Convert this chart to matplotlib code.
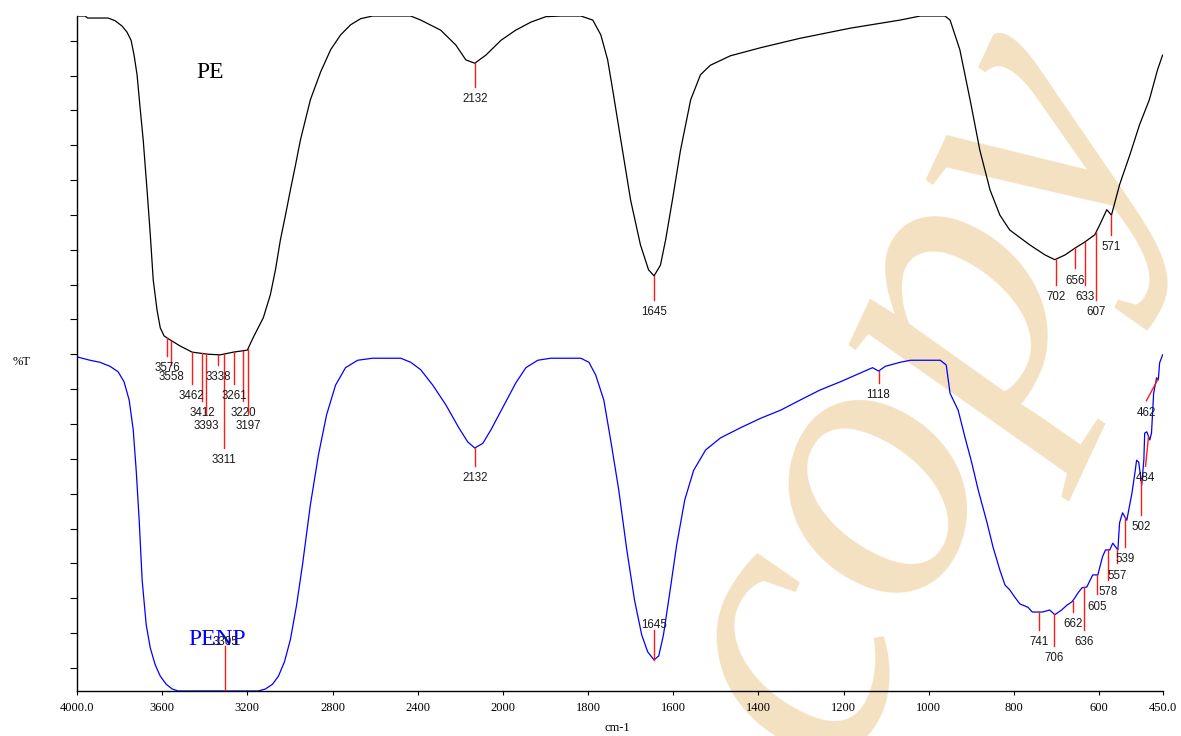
import numpy as np
import matplotlib
matplotlib.use("Agg")
import matplotlib.pyplot as plt

# PE spectrum (black): wavenumber (cm-1) and %T (stacked, arbitrary offset)
pe_wn = [4000, 3962, 3950, 3854, 3821, 3788, 3765, 3746, 3732, 3718, 3704, 3689,
         3671, 3656, 3642, 3624, 3609, 3591, 3562, 3515, 3459, 3388, 3327, 3266,
         3200, 3172, 3125, 3092, 3068, 3045, 3021, 2998, 2974, 2951, 2904, 2856,
         2809, 2762, 2715, 2668, 2612, 2433, 2386, 2292, 2221, 2174, 2132, 2080,
         2009, 1970, 1934, 1899, 1864, 1817, 1789, 1770, 1754, 1742, 1723, 1700,
         1677, 1658, 1645, 1630, 1618, 1602, 1583, 1559, 1536, 1513, 1466, 1395,
         1302, 1184, 1067, 1020, 962, 950, 927, 903, 880, 856, 833, 810, 763, 727,
         704, 680, 657, 634, 610, 599, 582, 571, 552, 528, 505, 482, 463, 451]
pe_t = [100.0, 100.0, 99.7, 99.7, 99.3, 98.5, 97.6, 96.4, 94.2, 91.3, 86.5, 81.6,
        74.2, 67.7, 60.9, 56.4, 53.8, 52.6, 52.0, 51.1, 50.2, 49.9, 49.8, 50.2,
        50.5, 52.4, 55.3, 58.7, 62.4, 66.8, 70.5, 74.2, 77.9, 81.6, 87.6, 91.7,
        95.0, 97.2, 98.7, 99.6, 100.0, 100.0, 99.4, 97.9, 95.7, 93.5, 93.0, 94.2,
        96.4, 97.9, 99.1, 99.9, 100.0, 100.0, 99.4, 97.2, 93.5, 89.0, 81.6, 72.7,
        66.1, 62.4, 61.5, 63.1, 66.8, 72.7, 80.1, 87.6, 91.3, 92.7, 94.1, 95.3,
        96.7, 98.2, 99.4, 100.0, 100.0, 99.4, 95.0, 87.6, 80.1, 74.2, 70.5, 68.3,
        66.1, 64.6, 63.9, 64.6, 65.6, 66.5, 67.6, 69.0, 71.3, 70.5, 75.0, 79.4,
        83.9, 87.6, 92.0, 94.2]

# PENP spectrum (blue)
penp_wn = [4000, 3939, 3892, 3845, 3807, 3779, 3755, 3736, 3722, 3708, 3694, 3675,
           3656, 3633, 3609, 3581, 3553, 3525, 3148, 3115, 3082, 3054, 3026, 2998,
           2969, 2941, 2904, 2866, 2828, 2786, 2739, 2682, 2612, 2480, 2433, 2386,
           2329, 2268, 2207, 2165, 2132, 2094, 2056, 2019, 1991, 1970, 1946, 1918,
           1888, 1817, 1798, 1782, 1763, 1747, 1728, 1709, 1691, 1674, 1660, 1645,
           1634, 1623, 1609, 1592, 1573, 1552, 1524, 1489, 1442, 1395, 1348, 1302,
           1255, 1208, 1161, 1132, 1118, 1102, 1067, 1043, 973, 959, 950, 931, 915,
           899, 884, 863, 849, 833, 821, 810, 798, 786, 767, 757, 733, 716, 704,
           688, 676, 664, 657, 650, 640, 629, 615, 603, 592, 585, 575, 568, 556,
           552, 545, 535, 523, 516, 512, 507, 500, 495, 493, 488, 481, 477, 472,
           465, 461, 458, 451]
penp_t = [49.5, 49.0, 48.7, 48.1, 47.3, 45.8, 43.1, 38.7, 32.7, 25.3, 16.4, 9.8,
          6.4, 3.9, 2.2, 1.0, 0.3, 0.0, 0.0, 0.3, 1.0, 2.2, 4.3, 7.6,
          12.7, 18.7, 27.6, 35.0, 40.9, 45.3, 47.9, 49.0, 49.3, 49.3, 48.7, 47.6,
          45.3, 42.4, 39.0, 36.9, 36.0, 36.7, 38.7, 40.9, 43.1, 45.6, 47.9, 49.0,
          49.3, 49.3, 48.7, 46.8, 43.1, 37.2, 29.8, 20.9, 13.5, 8.3, 5.8, 4.6,
          5.2, 8.3, 14.2, 21.6, 28.3, 32.7, 35.7, 37.5, 39.0, 40.4, 41.6, 43.1,
          44.6, 45.8, 47.1, 47.9, 47.4, 48.1, 48.7, 49.0, 49.0, 48.3, 44.1, 41.6, 37.6,
          33.8, 29.8, 24.9, 21.3, 17.9, 15.7, 15.0, 13.9, 12.9, 12.4, 11.7, 11.7, 12.0, 11.3,
          12.0, 12.7, 13.2, 13.8, 14.5, 15.3, 15.4, 17.2, 17.2, 19.9, 20.9, 20.9, 21.9, 20.9,
          24.9, 26.4, 25.3, 29.3, 32.3, 34.2, 33.9, 30.5, 34.2, 38.2, 38.4, 37.2, 38.2, 44.1,
          46.4, 46.1, 48.6, 49.8]

# peak picks
pe_peaks = [3576, 3558, 3462, 3412, 3393, 3338, 3311, 3261, 3220, 3197,
            2132, 1645, 702, 656, 633, 607, 571]
pe_label_t = [47.9, 46.5, 43.7, 41.2, 39.2, 46.5, 34.2, 43.7, 41.2, 39.2,
              87.7, 56.1, 58.3, 60.8, 58.3, 56.1, 65.8]
pe_label_wn = pe_peaks

penp_peaks = [3305, 2132, 1645, 1118, 741, 706, 662, 636, 605, 578, 557, 539, 502, 484, 462]
penp_label_t = [7.3, 31.6, 9.8, 43.9, 7.3, 4.9, 9.9, 7.3, 12.5, 14.6, 17.1, 19.6, 24.3, 31.5, 41.2]
penp_label_wn = [3305, 2132, 1645, 1118, 741, 706, 662, 636, 605, 578, 557, 539, 502, 491, 489]

xticks = [4000, 3600, 3200, 2800, 2400, 2000, 1800, 1600, 1400, 1200, 1000, 800, 600, 450]
xtick_labels = ["4000.0", "3600", "3200", "2800", "2400", "2000", "1800", "1600",
                "1400", "1200", "1000", "800", "600", "450.0"]


# scale change at 2000 cm-1 (high wavenumber side compressed by half)
def fwd(w):
    w = np.asarray(w, dtype=float)
    return np.where(w >= 2000, 2000 + (w - 2000) / 2, w)


def inv(f):
    f = np.asarray(f, dtype=float)
    return np.where(f >= 2000, 2000 + (f - 2000) * 2, f)


def draw_peaks(ax, wn, t, peaks, label_t, label_wn):
    wn_r = np.array(wn)[::-1]
    t_r = np.array(t)[::-1]
    for p, lt, lx in zip(peaks, label_t, label_wn):
        ct = np.interp(p, wn_r, t_r)
        end = lt + 1.8 if lt < ct else lt - 0.7
        ax.plot([p, lx], [ct, end], color="#ff1a1a", lw=1.0, zorder=3)
        ax.text(lx, lt, str(p), ha="center", va="center", fontsize=8.3,
                family="Liberation Sans", color="#1a1a1a", zorder=4)


fig = plt.figure(figsize=(11.81, 7.36), dpi=100)
ax = fig.add_axes([77 / 1181, 45 / 736, 1086 / 1181, 675 / 736])
ax.patch.set_alpha(0)

ax.set_xscale("function", functions=(fwd, inv))
ax.plot(pe_wn, pe_t, color="black", lw=0.9, zorder=2)
ax.plot(penp_wn, penp_t, color="#0000ff", lw=0.9, zorder=2)

draw_peaks(ax, pe_wn, pe_t, pe_peaks, pe_label_t, pe_label_wn)
draw_peaks(ax, penp_wn, penp_t, penp_peaks, penp_label_t, penp_label_wn)

ax.text(3374, 91.6, "PE", ha="center", va="center", fontsize=17,
        family="Liberation Serif", color="black")
ax.text(3341, 7.6, "PENP", ha="center", va="center", fontsize=17,
        family="Liberation Serif", color="#0000ff")

ax.set_xlim(4000, 450)
ax.set_ylim(0, 100)
ax.set_xticks(xticks)
ax.set_xticklabels(xtick_labels, family="Liberation Serif", fontsize=9)
ax.minorticks_off()
ax.set_yticks(np.arange(3.41, 97, 5.163))
ax.set_yticklabels([])
ax.tick_params(axis="x", direction="out", length=3, width=0.8, pad=5)
ax.tick_params(axis="y", direction="out", length=5, width=0.8)
for s in ["top", "right"]:
    ax.spines[s].set_visible(False)
for s in ["left", "bottom"]:
    ax.spines[s].set_linewidth(1.0)

fig.text(617 / 1181, 1 - 728 / 736, "cm-1", ha="center", va="center",
         fontsize=9, family="Liberation Serif")
fig.text(22 / 1181, 1 - 362 / 736, "%T", ha="center", va="center",
         fontsize=9, family="Liberation Serif")

# watermark
fig.text(0.772, 0.465, "copy", rotation=65, fontsize=285, family="Liberation Serif",
         style="italic", color="#F3E1C1", ha="center", va="center", zorder=-1)

fig.savefig("out.png", dpi=100)
